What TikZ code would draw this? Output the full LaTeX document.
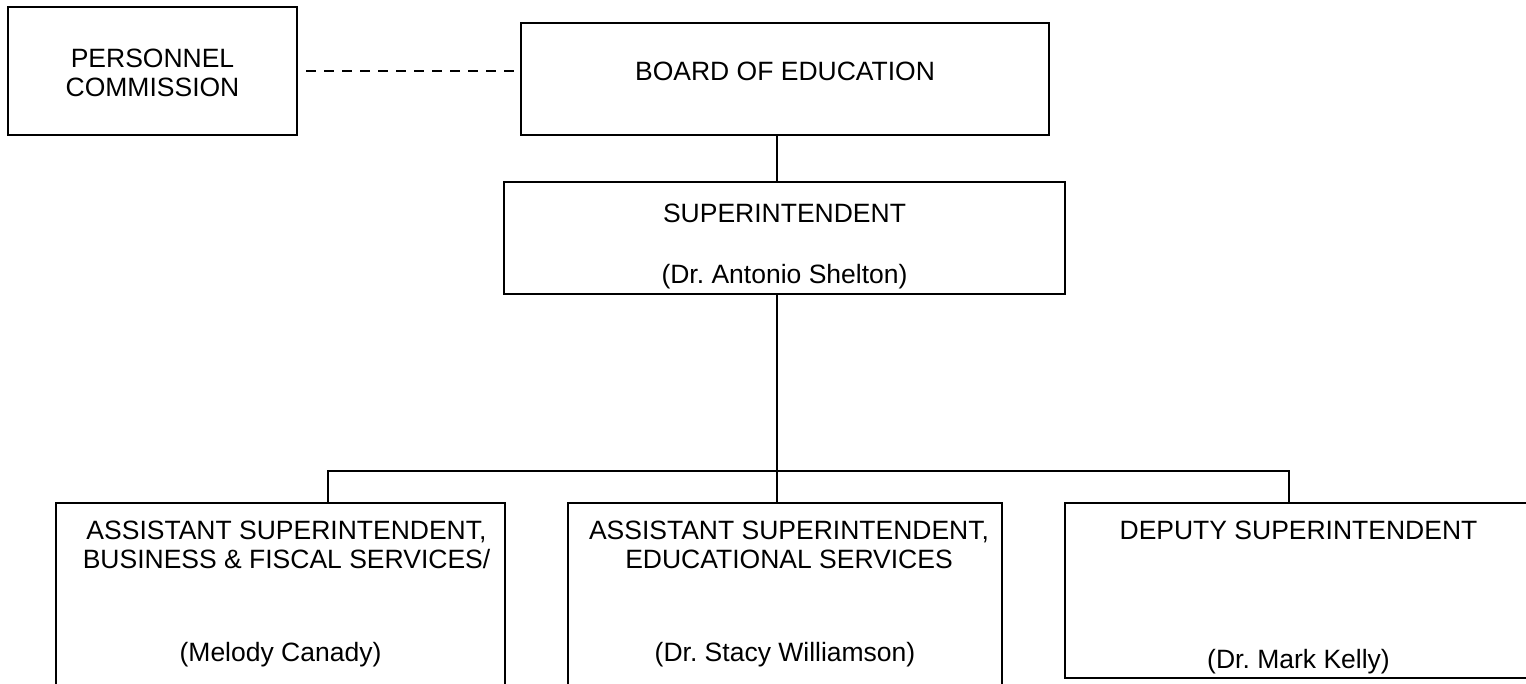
\documentclass[tikz,border=0pt]{standalone}
\usepackage{fontspec}
\setmainfont{Liberation Sans}
\usetikzlibrary{positioning}
\frenchspacing

\tikzset{
  orgbox/.style={draw, rectangle, line width=2.8pt, inner sep=0pt},
  orgtext/.style={font=\fontsize{26.5}{29}\selectfont, inner sep=0pt, align=center},
  link/.style={line width=2.8pt},
  staff/.style={line width=2.8pt, dash pattern=on 10pt off 8pt},
}

\begin{document}
\begin{tikzpicture}[x=1pt, y=-1pt]

  \useasboundingbox (0,0) rectangle (1526,683);

  \node (pc) [orgbox, minimum width=289pt, minimum height=128pt] at (152.5,71) {};
  \node (board) [orgbox, minimum width=528pt, minimum height=112pt] at (785,79) {};
  \node (supt) [orgbox, minimum width=561pt, minimum height=112pt] at (784.5,238) {};
  \node (asb) [orgbox, minimum width=449pt, minimum height=200pt] at (280.5,603) {};
  \node (ase) [orgbox, minimum width=434pt, minimum height=200pt] at (785,603) {};
  \node (dep) [orgbox, minimum width=467pt, minimum height=175pt] at (1298.5,590.5) {};

  \node (pctext) [orgtext] at ([yshift=-2pt]pc.center) {PERSONNEL\\COMMISSION};
  \node (boardtext) [orgtext] at ([yshift=8pt]board.center) {BOARD OF EDUCATION};
  \node (supttitle) [orgtext, below=23pt of supt.north] {SUPERINTENDENT};
  \node (suptname) [orgtext, anchor=base] at ([yshift=12pt]supt.south) {(Dr. Antonio Shelton)};
  \node (asbtitle) [orgtext, below=19pt of asb.north, xshift=6pt] {ASSISTANT SUPERINTENDENT,\\BUSINESS \& FISCAL SERVICES/};
  \node (asbname) [orgtext, anchor=base] at ([yshift=-160pt]asb.north) {(Melody Canady)};
  \node (asetitle) [orgtext, below=19pt of ase.north, xshift=4pt] {ASSISTANT SUPERINTENDENT,\\EDUCATIONAL SERVICES};
  \node (asename) [orgtext, anchor=base] at ([yshift=-160pt]ase.north) {(Dr. Stacy Williamson)};
  \node (deptitle) [orgtext, below=19pt of dep.north] {DEPUTY SUPERINTENDENT};
  \node (depname) [orgtext, anchor=base] at ([yshift=11pt]dep.south) {(Dr. Mark Kelly)};

  \coordinate (trunk) at (777,471);
  \coordinate (busL) at (328,471);
  \coordinate (busR) at (1289,471);

  \draw [staff] ([xshift=8pt]pc.east) -- (pc.east -| board.west);
  \draw [link] (board.south -| trunk) -- (supt.north -| trunk);
  \draw [link] (supt.south -| trunk) -- (trunk) -- (trunk |- ase.north);
  \draw [link] (busL |- asb.north) -- (busL) -- (busR) -- (busR |- dep.north);

\end{tikzpicture}
\end{document}
